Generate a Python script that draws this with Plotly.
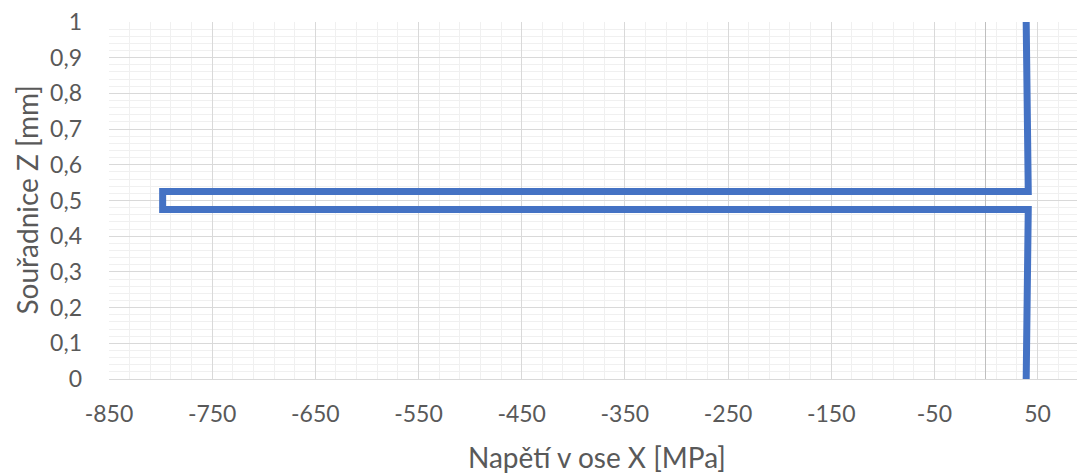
import plotly.graph_objects as go

# Data (stress in MPa vs Z coordinate in mm)
stress_x = [39, 40, 41, -798, -798, 41, 40, 39]
coord_z = [0, 0.25, 0.475, 0.475, 0.525, 0.525, 0.75, 1]

x_tick_vals = [-850, -750, -650, -550, -450, -350, -250, -150, -50, 50]
x_tick_text = ["-850", "-750", "-650", "-550", "-450", "-350", "-250", "-150", "-50", "50"]
y_tick_vals = [0, 0.1, 0.2, 0.3, 0.4, 0.5, 0.6, 0.7, 0.8, 0.9, 1]
y_tick_text = ["0", "0,1", "0,2", "0,3", "0,4", "0,5", "0,6", "0,7", "0,8", "0,9", "1"]

x_title = "Napětí v ose X [MPa]"
y_title = "Souřadnice Z [mm]"

fig = go.Figure()
fig.add_trace(go.Scatter(
    x=stress_x, y=coord_z, mode="lines",
    line=dict(color="#4472C4", width=7),
    showlegend=False,
))

font_fam = "Lato, 'Open Sans', sans-serif"
fig.update_layout(
    width=1077, height=465,
    margin=dict(l=101, r=0, t=14, b=94),
    paper_bgcolor="white", plot_bgcolor="white",
    font=dict(family=font_fam, color="#595959", size=23),
    xaxis=dict(
        range=[-850, 96], tickvals=x_tick_vals, ticktext=x_tick_text, ticks="",
        showgrid=True, gridcolor="#D9D9D9", gridwidth=1,
        minor=dict(dtick=20, tick0=-850, showgrid=True, gridcolor="#F0F0F0", gridwidth=1),
        zeroline=True, zerolinecolor="#BFBFBF", zerolinewidth=1,
        showline=False, automargin=False,
        tickfont=dict(size=23, color="#595959"),
        ticklabelstandoff=19, ticklabeloverflow="allow",
    ),
    yaxis=dict(
        range=[0, 1], tickvals=y_tick_vals, ticktext=y_tick_text, ticks="",
        showgrid=True, gridcolor="#D9D9D9", gridwidth=1,
        minor=dict(dtick=0.02, tick0=0, showgrid=True, gridcolor="#F0F0F0", gridwidth=1),
        zeroline=True, zerolinecolor="#D9D9D9", zerolinewidth=1,
        showline=False, automargin=False,
        tickfont=dict(size=23, color="#595959"),
        ticklabelstandoff=26, ticklabeloverflow="allow",
    ),
    annotations=[
        dict(text=x_title, xref="paper", yref="paper", x=0.5, y=0,
             xanchor="center", yanchor="middle", yshift=-78, showarrow=False,
             font=dict(size=28, color="#595959")),
        dict(text=y_title, xref="paper", yref="paper", x=0, y=0.5,
             xanchor="center", yanchor="middle", xshift=-83, textangle=-90,
             showarrow=False, font=dict(size=28, color="#595959")),
    ],
)

fig.write_html("out.html")
